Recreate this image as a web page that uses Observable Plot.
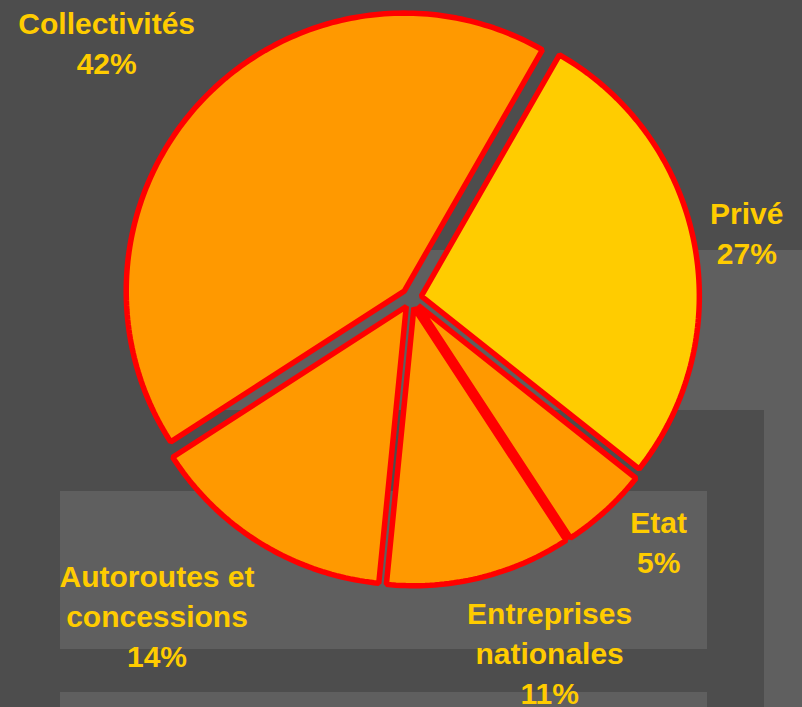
<!DOCTYPE html>
<html>
<head>
<meta charset="utf-8">
<script src="https://cdn.jsdelivr.net/npm/d3@7"></script>
<script src="https://cdn.jsdelivr.net/npm/@observablehq/plot@0.6"></script>
<style>
  html, body { margin: 0; padding: 0; background: #4d4d4d; }
  #wrap { position: relative; width: 802px; height: 707px; overflow: hidden; background: #4d4d4d; }
  .panel { position: absolute; background: #5f5f5f; }
  .dark { position: absolute; background: #4d4d4d; }
  #chart { position: absolute; left: 0; top: 0; }
</style>
</head>
<body>
<div id="wrap">
  <div class="panel" style="left:207px;top:250px;width:595px;height:457px"></div>
  <div class="dark" style="left:0px;top:410px;width:764px;height:297px"></div>
  <div class="panel" style="left:60px;top:491px;width:647px;height:158px"></div>
  <div class="panel" style="left:60px;top:692px;width:647px;height:15px"></div>
  <div id="chart"></div>
</div>
<script>
// ---- data (clockwise from the first slice) ----
const categories = ["Privé", "Etat", "Entreprises\nnationales", "Autoroutes et\nconcessions", "Collectivités"];
const shares = [27.4, 5.1, 10.8, 14.3, 42.4];           // % of total
const sliceColors = ["#ffcc00", "#ff9900", "#ff9900", "#ff9900", "#ff9900"];

// ---- layout (not data) ----
const startDeg = 29.8;          // first slice start, clockwise from north
const explode = 0.036;          // explosion, in pie radii
const labelAngleNudge = [0.2, -2.5, -7.1, 7.3, -4];    // degrees
const labelRadius = [1.22, 1.25, 1.375, 1.475, 1.43];  // in pie radii

const total = d3.sum(shares);
const rad = Math.PI / 180;
const slices = [];
const labels = [];
let a = startDeg;
shares.forEach((v, i) => {
  const span = v / total * 360;
  const a0 = a, a1 = a + span, mid = a + span / 2;
  const ox = explode * Math.sin(mid * rad), oy = explode * Math.cos(mid * rad);
  slices.push({name: categories[i], color: sliceColors[i], x: ox, y: oy});
  const n = Math.max(2, Math.ceil(span));
  for (let k = 0; k <= n; ++k) {
    const t = (a0 + (a1 - a0) * k / n) * rad;
    slices.push({name: categories[i], color: sliceColors[i], x: ox + Math.sin(t), y: oy + Math.cos(t)});
  }
  const la = (mid + labelAngleNudge[i]) * rad;
  labels.push({
    x: labelRadius[i] * Math.sin(la),
    y: labelRadius[i] * Math.cos(la),
    text: categories[i] + "\n" + Math.round(v) + "%"
  });
  a = a1;
});

const R = 278;            // pie radius in px
const cx = 411, cy = 297.5; // pie centre in px
const plot = Plot.plot({
  width: 802,
  height: 707,
  margin: 0,
  x: {domain: [-cx / R, (802 - cx) / R], axis: null},
  y: {domain: [-(707 - cy) / R, cy / R], axis: null},
  color: {type: "identity"},
  style: {background: "transparent", overflow: "visible"},
  marks: [
    Plot.line(slices, {
      x: "x", y: "y", z: "name",
      fill: "color",
      stroke: "#ff0000",
      strokeWidth: 5.5,
      strokeLinejoin: "miter",
      curve: "linear-closed"
    }),
    Plot.text(labels, {
      x: "x", y: "y", text: "text",
      fill: "#ffcc00",
      fontSize: 30,
      fontWeight: "bold",
      fontFamily: "Liberation Sans, Arial, sans-serif",
      lineHeight: 1.333,
      textAnchor: "middle",
      lineAnchor: "middle",
      dx: 2,
      dy: -4
    })
  ]
});
document.getElementById("chart").appendChild(plot);
</script>
</body>
</html>
